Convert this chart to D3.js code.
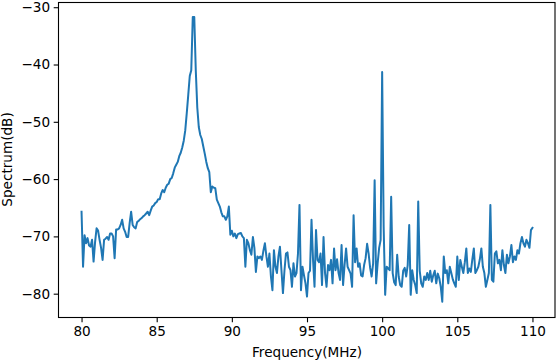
<!DOCTYPE html>
<html>
<head>
<meta charset="utf-8">
<script src="https://cdn.jsdelivr.net/npm/d3@7"></script>
<style>
  html, body { margin: 0; padding: 0; background: #fff; }
  svg { display: block; font-family: "DejaVu Sans", sans-serif; }
</style>
</head>
<body>
<svg id="chart" width="557" height="361"></svg>
<script>
// Frequency grid (MHz): 80.0 .. 110.0, step 0.1
const freqStart = 80.0;
const freqStep = 0.1;
// Spectrum values (dB), one per frequency sample
const spectrum = [
  -65.7, -75.3, -69.8, -71.2, -70.3, -71.6, -71.8, -70.6, -74.4, -71.0,
  -68.6, -69.0, -70.6, -72.0, -74.1, -70.6, -70.4, -70.1, -70.6, -69.5,
  -69.5, -70.0, -73.8, -68.8, -68.8, -68.6, -68.0, -67.1, -68.6, -69.2,
  -70.1, -70.1, -67.7, -65.7, -68.0, -68.4, -68.6, -67.5, -67.3, -67.0,
  -66.8, -66.5, -66.3, -66.0, -65.7, -66.3, -65.5, -64.8, -64.6, -64.2,
  -64.0, -63.5, -63.5, -62.5, -61.9, -62.3, -61.5, -61.0, -60.8, -60.0,
  -59.8, -59.0, -58.0, -57.5, -57.0, -56.0, -55.4, -54.5, -53.3, -51.5,
  -48.5, -45.3, -42.0, -41.0, -31.7, -31.7, -41.0, -47.5, -50.9, -52.3,
  -53.0, -54.3, -55.6, -57.0, -58.1, -58.8, -62.3, -61.3, -61.5, -61.6,
  -63.6, -64.2, -64.8, -65.8, -66.5, -66.5, -67.1, -66.5, -64.8, -69.7,
  -69.0, -70.0, -69.5, -70.3, -69.6, -69.5, -69.4, -70.0, -70.3, -75.3,
  -70.6, -71.2, -72.4, -73.2, -70.1, -72.0, -76.2, -73.5, -73.8, -73.5,
  -74.1, -72.5, -71.2, -73.5, -75.3, -73.0, -77.0, -79.4, -72.4, -75.3,
  -76.4, -73.5, -71.8, -75.9, -79.9, -76.0, -73.0, -72.8, -75.3, -75.9,
  -78.8, -74.7, -77.0, -76.4, -73.0, -64.5, -79.4, -75.3, -76.8, -78.2,
  -80.5, -76.4, -76.0, -67.1, -74.0, -78.8, -68.9, -74.1, -74.5, -73.0,
  -78.5, -70.1, -76.4, -78.8, -75.0, -75.9, -74.1, -78.2, -72.1, -75.9,
  -74.0, -76.4, -77.6, -71.5, -78.5, -75.0, -72.1, -75.3, -75.9, -76.5,
  -78.8, -66.3, -74.5, -72.1, -75.3, -74.7, -76.8, -77.0, -75.0, -73.8,
  -71.3, -73.0, -75.5, -77.0, -74.7, -60.2, -78.2, -74.7, -72.0, -70.6,
  -41.3, -68.3, -80.2, -75.3, -75.6, -75.9, -63.1, -76.4, -78.0, -78.5,
  -73.2, -77.0, -78.5, -78.8, -76.0, -75.5, -77.0, -75.0, -68.0, -80.2,
  -75.9, -77.6, -78.5, -79.9, -63.9, -76.0, -78.2, -78.8, -77.0, -77.6,
  -76.4, -77.6, -76.0, -77.9, -76.8, -76.0, -78.2, -76.5, -77.3, -78.8,
  -81.4, -73.5, -76.4, -75.9, -78.2, -75.3, -76.4, -77.5, -78.2, -78.8,
  -73.5, -77.6, -74.1, -75.3, -76.4, -74.5, -72.1, -76.4, -75.6, -76.2,
  -74.0, -72.1, -76.4, -75.9, -75.3, -74.0, -72.1, -75.3, -76.4, -78.8,
  -77.6, -76.4, -64.5, -77.6, -77.9, -73.0, -72.6, -74.7, -74.1, -75.9,
  -72.4, -75.0, -76.4, -73.2, -74.7, -73.5, -71.5, -74.5, -73.5, -74.1,
  -72.4, -73.0, -71.2, -70.1, -71.2, -71.8, -70.6, -71.2, -72.0, -68.9,
  -68.5
];
const xTicks = [80, 85, 90, 95, 100, 105, 110];
const yTicks = [-30, -40, -50, -60, -70, -80];
const xLabel = "Frequency(MHz)";
const yLabel = "Spectrum(dB)";

const data = spectrum.map((v, i) => ({ f: freqStart + i * freqStep, v }));

const L = 59, R = 555, T = 2, B = 317;
const svg = d3.select("#chart");

const x = d3.scaleLinear().domain([78.5, 111.5]).range([L, R]);
const y = d3.scaleLinear().domain([-84.07, -29.09]).range([B, T]);

const line = d3.line().x(d => x(d.f)).y(d => y(d.v));

svg.append("path")
  .datum(data)
  .attr("d", line)
  .attr("fill", "none")
  .attr("stroke", "#1f77b4")
  .attr("stroke-width", 2)
  .attr("stroke-linejoin", "round")
  .attr("stroke-linecap", "square");

const fmt = d3.format("d");

const gx = svg.append("g")
  .attr("transform", `translate(0,${B + 0.5})`)
  .call(d3.axisBottom(x).tickValues(xTicks).tickFormat(fmt).tickSize(4.8).tickPadding(3.6).tickSizeOuter(0));
const gy = svg.append("g")
  .attr("transform", `translate(${L - 0.5},0)`)
  .call(d3.axisLeft(y).tickValues(yTicks).tickFormat(fmt).tickSize(4.8).tickPadding(3.6).tickSizeOuter(0));

[gx, gy].forEach(g => {
  g.select(".domain").remove();
  g.selectAll(".tick line").attr("stroke", "#000").attr("stroke-width", 1.1);
  g.selectAll(".tick text").attr("fill", "#000").style("font-size", "13.6px").style("font-family", "DejaVu Sans");
});

// frame (spines)
svg.append("rect")
  .attr("x", L - 0.5).attr("y", T + 0.5)
  .attr("width", R - L + 0.5).attr("height", B - T)
  .attr("fill", "none").attr("stroke", "#000").attr("stroke-width", 1.1);

svg.append("text")
  .attr("x", (L + R) / 2).attr("y", 357)
  .attr("text-anchor", "middle")
  .style("font-size", "13.6px")
  .text(xLabel);

svg.append("text")
  .attr("transform", `translate(12,${(T + B) / 2}) rotate(-90)`)
  .attr("text-anchor", "middle")
  .style("font-size", "13.6px")
  .text(yLabel);
</script>
</body>
</html>
